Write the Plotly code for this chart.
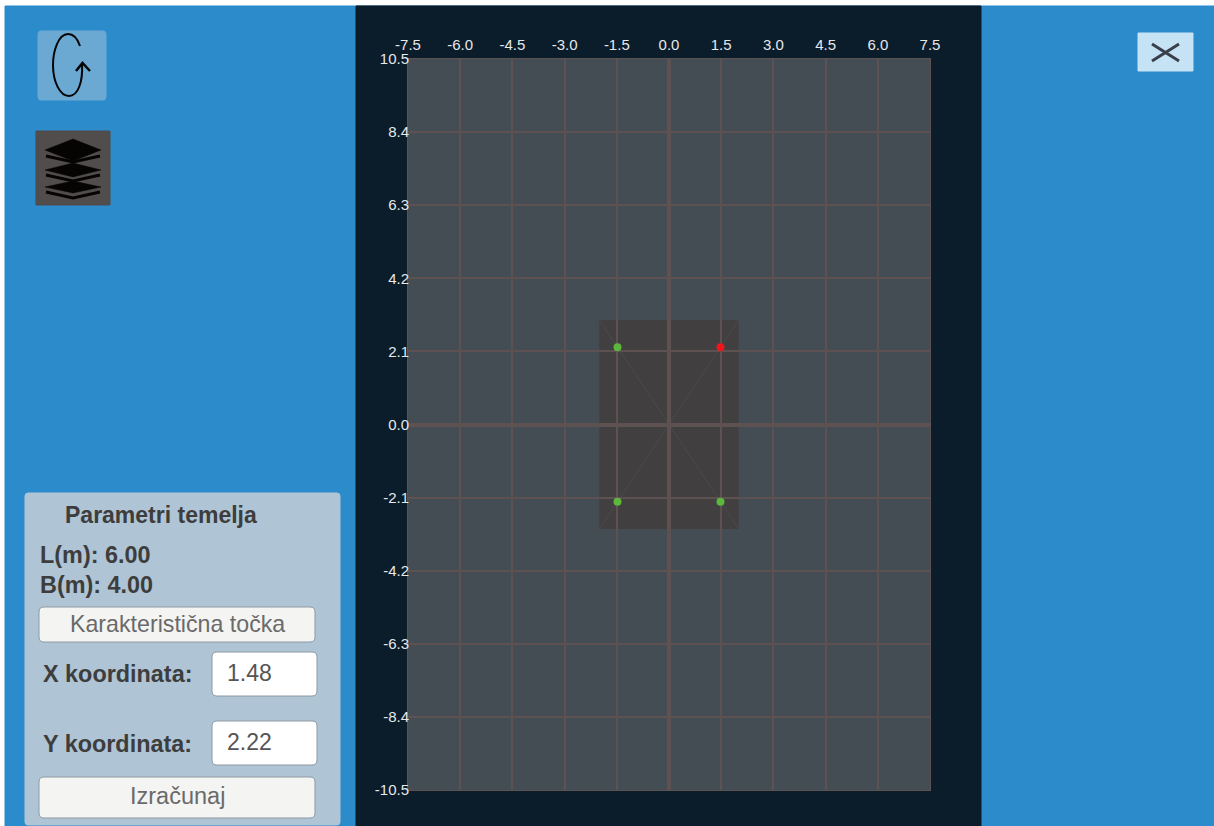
import plotly.graph_objects as go

# ---- data ----
x_ticks = [-7.5, -6.0, -4.5, -3.0, -1.5, 0.0, 1.5, 3.0, 4.5, 6.0, 7.5]
y_ticks = [10.5, 8.4, 6.3, 4.2, 2.1, 0.0, -2.1, -4.2, -6.3, -8.4, -10.5]
x_tick_labels = ["-7.5", "-6.0", "-4.5", "-3.0", "-1.5", "0.0", "1.5", "3.0", "4.5", "6.0", "7.5"]
y_tick_labels = ["10.5", "8.4", "6.3", "4.2", "2.1", "0.0", "-2.1", "-4.2", "-6.3", "-8.4", "-10.5"]
foundation_L = 6.0
foundation_B = 4.0
point_x = [-1.48, 1.48, -1.48, 1.48]
point_y = [2.22, 2.22, -2.22, -2.22]
point_colors = ["#5cb83c", "#f0141c", "#5cb83c", "#5cb83c"]

W, H = 1214, 826
BLUE = "#2b8bcb"
DARK = "#0b1c2a"
PLOT = "#434d53"
GRID = "#5e5152"


def px(x):
    return x / W


def py(y):
    return 1 - y / H


def P(x, y):
    return f"{px(x):.5f},{py(y):.5f}"


def rrect(x0, y0, x1, y1, r, fill, line=None, lw=1):
    d = (f"M{P(x0+r,y0)} L{P(x1-r,y0)} Q{P(x1,y0)} {P(x1,y0+r)} L{P(x1,y1-r)} Q{P(x1,y1)} {P(x1-r,y1)} "
         f"L{P(x0+r,y1)} Q{P(x0,y1)} {P(x0,y1-r)} L{P(x0,y0+r)} Q{P(x0,y0)} {P(x0+r,y0)} Z")
    return dict(type="path", xref="paper", yref="paper", path=d, fillcolor=fill,
                line=dict(color=line or fill, width=lw), layer="below")


def stroke(d, color, w):
    return dict(type="path", xref="paper", yref="paper", path=d, line=dict(color=color, width=w), layer="below")


def solid(d, color):
    return dict(type="path", xref="paper", yref="paper", path=d, fillcolor=color,
                line=dict(color=color, width=0.5), layer="below")


shapes = [
    rrect(5, 6, W, H, 0, BLUE),
    rrect(356, 6, 981, H, 0, DARK),
    rrect(408, 59, 930, 790, 0, PLOT),
    # rotate button
    rrect(38, 31, 106, 100, 3, "#6ba9d3"),
    stroke(f"M{P(80,46)} C{P(77,37)} {P(72,34)} {P(68,34)} C{P(58,34)} {P(53,52)} {P(53,65)} "
           f"C{P(53,82)} {P(60,96)} {P(69,96)} C{P(78,96)} {P(83,82)} {P(82,64)}", "#050505", 2),
    stroke(f"M{P(76,71)} L{P(82.5,63)} L{P(90,71)}", "#050505", 2.5),
    # layers button
    rrect(36, 131, 110, 205, 0, "#504d4c"),
    # close button
    rrect(1138, 33, 1193, 71, 0, "#c5e3f5"),
    stroke(f"M{P(1152,44)} L{P(1179,61)} M{P(1179,44)} L{P(1152,61)}", "#3a3f4a", 3),
    # parameter panel
    rrect(25, 493, 340, 825, 3, "#afc4d4"),
    rrect(39, 607, 315, 642, 5, "#f4f4f3", "#8e9aa3"),
    rrect(212, 652, 317, 696, 5, "#ffffff", "#8e9aa3"),
    rrect(212, 721, 317, 765, 5, "#ffffff", "#8e9aa3"),
    rrect(39, 777, 315, 818, 5, "#f4f4f3", "#8e9aa3"),
    # foundation footprint, below the gridlines
    dict(type="rect", xref="x", yref="y", x0=-foundation_B / 2, x1=foundation_B / 2,
         y0=-foundation_L / 2, y1=foundation_L / 2, fillcolor="#423f40", line=dict(width=0), layer="below"),
    dict(type="line", xref="x", yref="y", x0=-foundation_B / 2, x1=foundation_B / 2,
         y0=-foundation_L / 2, y1=foundation_L / 2, line=dict(color="#4b4a4b", width=1), layer="below"),
    dict(type="line", xref="x", yref="y", x0=-foundation_B / 2, x1=foundation_B / 2,
         y0=foundation_L / 2, y1=-foundation_L / 2, line=dict(color="#4b4a4b", width=1), layer="below"),
]

# layers icon
for cy, half in [(150, 11), (170, 7), (187, 6)]:
    shapes.append(solid(f"M{P(45,cy)} L{P(73,cy-half)} L{P(101,cy)} L{P(73,cy+half)} Z", "#060403"))
for cy in (156, 175, 192):
    shapes.append(stroke(f"M{P(46,cy)} L{P(73,cy+6)} L{P(100,cy)}", "#060403", 3))

FONT = "Liberation Sans, Arial, sans-serif"


def label(text, x, y, size=23, color="#3d3d3d", bold=False, anchor="left"):
    t = f"<b>{text}</b>" if bold else text
    return dict(text=t, x=px(x), y=py(y), xref="paper", yref="paper", xanchor=anchor, yanchor="middle",
                showarrow=False, font=dict(family=FONT, size=size, color=color))


annotations = [
    label("Parametri temelja", 63, 515, 23, bold=True),
    label("L(m): 6.00", 38, 555, 23.4, bold=True),
    label("B(m): 4.00", 38, 585, 23.4, bold=True),
    label("Karakteristična točka", 177, 624, 23.2, "#6a6a6a", anchor="center"),
    label("X koordinata:", 41, 674, 23.4, bold=True),
    label("1.48", 225, 673, 23, "#555555"),
    label("Y koordinata:", 41, 744, 23.4, bold=True),
    label("2.22", 225, 742, 23, "#555555"),
    label("Izračunaj", 177, 796, 23.5, "#6a6a6a", anchor="center"),
]

fig = go.Figure()
fig.add_trace(go.Scatter(x=point_x, y=point_y, mode="markers", showlegend=False,
                         marker=dict(color=point_colors, size=8, line=dict(width=0))))

axis = dict(showgrid=True, gridcolor=GRID, gridwidth=1.5, zeroline=True, zerolinecolor=GRID, zerolinewidth=3.5,
            showline=True, linecolor=GRID, linewidth=1, mirror=True, ticks="", fixedrange=True,
            tickfont=dict(family=FONT, size=15, color="#e6e8ea"))

fig.update_layout(
    width=W, height=H, margin=dict(l=0, r=0, t=0, b=0, pad=0, autoexpand=False), autosize=False,
    paper_bgcolor="#ffffff", plot_bgcolor=PLOT, showlegend=False,
    shapes=shapes, annotations=annotations,
    xaxis=dict(axis, domain=[px(408), px(930)], range=[-7.5, 7.5], side="top",
               tickmode="array", tickvals=x_ticks, ticktext=x_tick_labels, ticklabelstandoff=2),
    yaxis=dict(axis, domain=[py(790), py(59)], range=[-10.5, 10.5],
               tickmode="array", tickvals=y_ticks, ticktext=y_tick_labels, ticklabelstandoff=-5),
)

fig.write_html("out.html", config=dict(displayModeBar=False),
               post_script="document.body.style.margin='0';document.documentElement.style.overflow='hidden';")
